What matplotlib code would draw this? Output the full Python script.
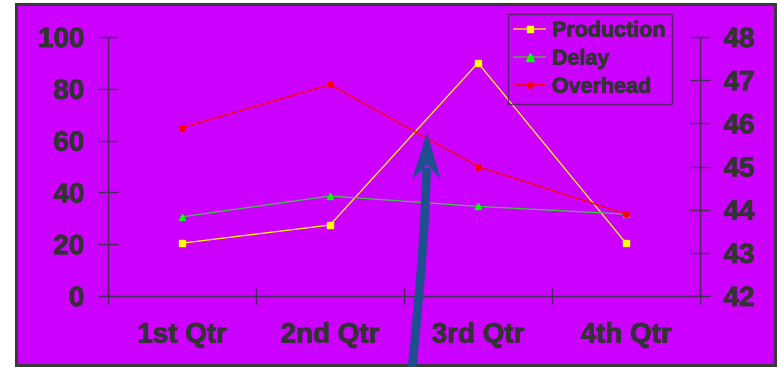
import numpy as np
import matplotlib
matplotlib.use("Agg")
import matplotlib.pyplot as plt
import matplotlib.patheffects as pe
from matplotlib.patches import Rectangle, Polygon, PathPatch
from matplotlib.path import Path
from matplotlib.lines import Line2D

# quarterly figures
quarters = ["1st Qtr", "2nd Qtr", "3rd Qtr", "4th Qtr"]
production = [20.4, 27.4, 90, 20.4]
delay = [30.6, 38.6, 34.6, 31.6]
overhead = [45.9, 46.9, 45, 43.9]

W, H = 780, 367
PURPLE = "#cc00ff"
TEXT = "#333333"
AXIS = "#4a2a58"
ARROW = "#1f4f8f"

plt.rcParams["font.family"] = ["Liberation Sans", "DejaVu Sans"]
plt.rcParams["font.weight"] = "bold"

fig = plt.figure(figsize=(W / 100, H / 100), dpi=100)
fig.patch.set_facecolor("white")


def px(x, y):
    # pixel position (from top-left) -> figure fraction
    return (x / W, 1 - y / H)


# slightly heavier strokes for the labels
heavy = [pe.withStroke(linewidth=0.6, foreground=TEXT)]

# purple chart area with dark border
x0, y0 = px(16, 365)
x1, y1 = px(775, 4)
fig.add_artist(Rectangle((x0, y0), x1 - x0, y1 - y0, transform=fig.transFigure,
                         facecolor=PURPLE, edgecolor="#3a3a3a", lw=2.2, zorder=0))

l, b = px(108, 296)
r, t = px(700, 37)
ax = fig.add_axes([l, b, r - l, t - b])
ax.patch.set_visible(False)
ax2 = ax.twinx()
ax2.patch.set_visible(False)

x = np.arange(1, len(quarters) + 1)
ax.plot(x, production, color="#ffff00", lw=0.9, marker="s", ms=4.5,
        mec="#ffff00", mfc="#ffff00", label="Production", zorder=3)
ax.plot(x, delay, color="#3cc83c", lw=0.9, marker="^", ms=5,
        mec="#00ff00", mfc="#00ff00", label="Delay", zorder=3)
ax2.plot(x, overhead, color="#ff0000", lw=0.9, marker="o", ms=4,
         mec="#ff0000", mfc="#ff0000", label="Overhead", zorder=3)

ax.set_xlim(0.5, len(quarters) + 0.5)
ax.set_ylim(0, 100)
ax2.set_ylim(42, 48)
ax.set_yticks(np.arange(0, 101, 20))
ax2.set_yticks(np.arange(42, 49, 1))

ax.set_xticks(x)
ax.set_xticklabels(quarters)
ax.set_xticks(np.arange(0.5, len(quarters) + 1, 1), minor=True)

for a in (ax, ax2):
    for s in a.spines.values():
        s.set_visible(False)
        s.set_color(AXIS)
        s.set_linewidth(1)
ax.spines["left"].set_visible(True)
ax.spines["bottom"].set_visible(True)
ax2.spines["right"].set_visible(True)

ax.tick_params(axis="x", which="major", length=0, pad=19, labelsize=20,
               labelcolor=TEXT)
ax.tick_params(axis="x", which="minor", direction="inout", length=12,
               width=1, color=AXIS)
ax.tick_params(axis="y", direction="inout", length=14, width=1, color=AXIS,
               pad=10, labelsize=20, labelcolor=TEXT)
ax2.tick_params(axis="y", direction="inout", length=14, width=1, color=AXIS,
                pad=10, labelsize=20, labelcolor=TEXT)

for lab in ax.get_xticklabels() + ax.get_yticklabels() + ax2.get_yticklabels():
    lab.set_path_effects(heavy)

handles = [
    Line2D([], [], color="#f0c020", lw=1.2, marker="s", ms=5, mec="#ffff00", mfc="#ffff00"),
    Line2D([], [], color="#7a7a7a", lw=1.5, marker="^", ms=5.5, mec="#00ff00", mfc="#00ff00"),
    Line2D([], [], color="#ff0000", lw=1.2, marker="o", ms=4, mec="#ff0000", mfc="#ff0000"),
]
leg = fig.legend(handles, ["Production", "Delay", "Overhead"],
                 loc="upper right", bbox_to_anchor=px(672, 14),
                 fontsize=15.5, frameon=True, fancybox=False, borderpad=0.3,
                 labelspacing=0.33, handlelength=1.45, handletextpad=0.3,
                 borderaxespad=0)
leg.get_frame().set_edgecolor("#3a2a48")
leg.get_frame().set_facecolor("none")
leg.get_frame().set_linewidth(1)
for txt in leg.get_texts():
    txt.set_color(TEXT)
    txt.set_path_effects(heavy)

# curved callout arrow
p0, c, p2 = px(412, 369), px(426, 232), px(426.5, 168)
shaft = Path([p0, c, p2], [Path.MOVETO, Path.CURVE3, Path.CURVE3])
fig.add_artist(PathPatch(shaft, transform=fig.transFigure, facecolor="none",
                         edgecolor=ARROW, lw=6.3, capstyle="butt", zorder=10))
head = [px(427, 134), px(440, 178), px(427, 164), px(413, 178)]
fig.add_artist(Polygon(head, closed=True, transform=fig.transFigure,
                       facecolor=ARROW, edgecolor=ARROW, lw=0.5, zorder=10))

fig.savefig("out.png", dpi=100, facecolor="white")
